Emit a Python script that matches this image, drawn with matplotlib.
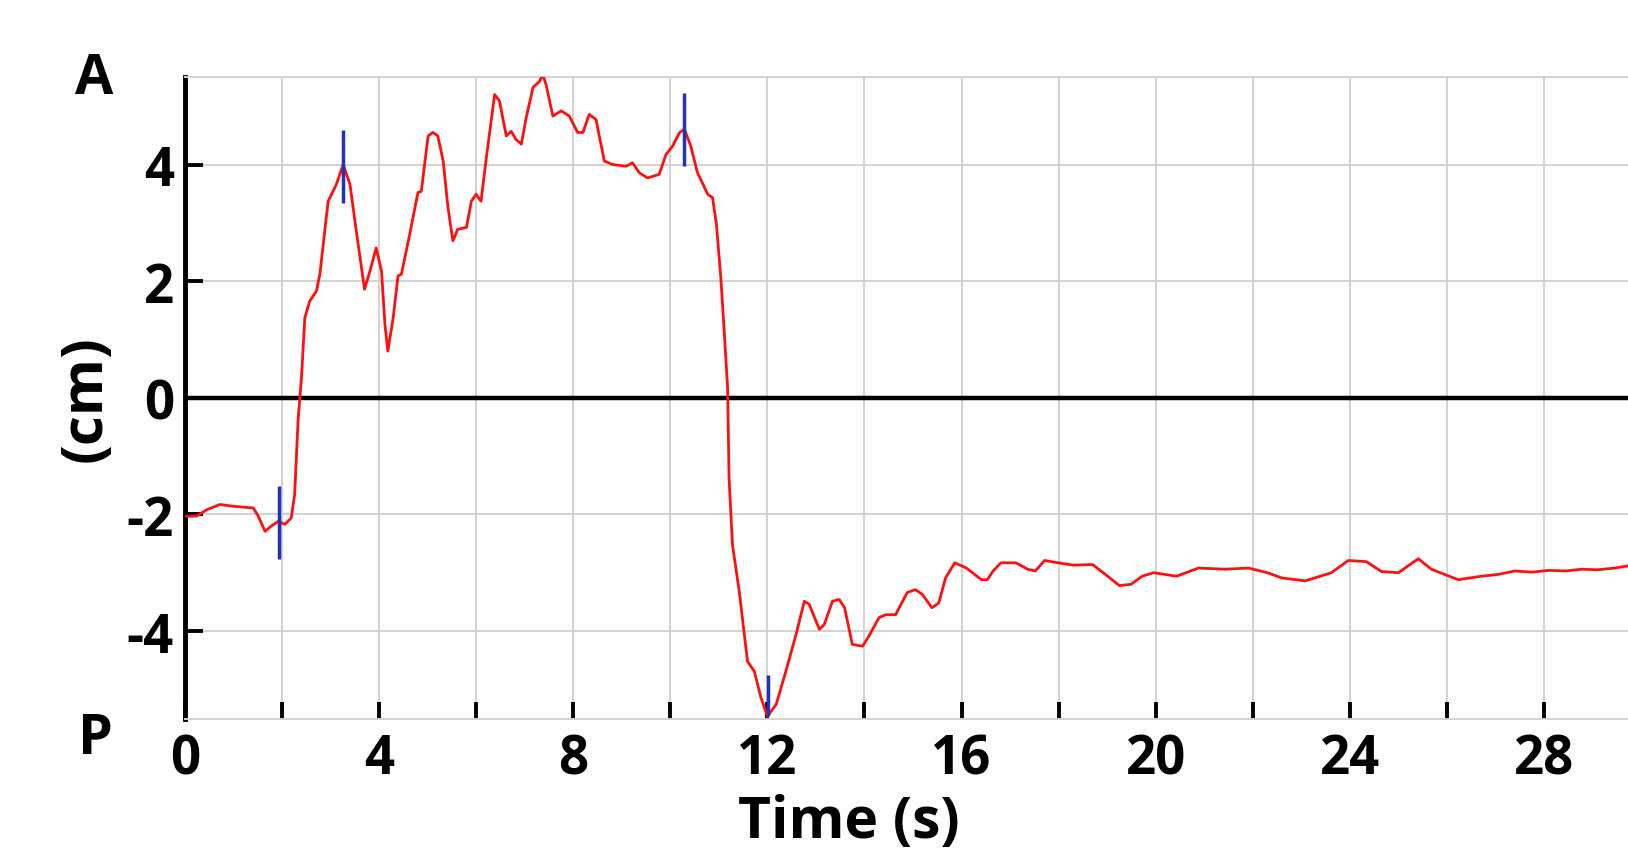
import matplotlib
matplotlib.use("Agg")
import matplotlib.pyplot as plt
import numpy as np

# trace: time (s) and displacement (cm)
time_s = [0.00, 0.24, 0.45, 0.72, 0.99, 1.41, 1.51, 1.65, 1.78, 1.92, 2.06, 2.19, 2.26, 2.33,
          2.40, 2.47, 2.57, 2.71, 2.78, 2.95, 3.12, 3.26, 3.40, 3.53, 3.70, 3.81, 3.94, 4.05,
          4.12, 4.18, 4.29, 4.39, 4.46, 4.63, 4.80, 4.87, 5.01, 5.11, 5.21, 5.32, 5.42, 5.52,
          5.62, 5.80, 5.90, 6.00, 6.10, 6.21, 6.38, 6.48, 6.62, 6.72, 6.82, 6.93, 7.03, 7.17,
          7.31, 7.37, 7.44, 7.58, 7.75, 7.92, 8.09, 8.20, 8.33, 8.47, 8.64, 8.81, 9.09, 9.22,
          9.36, 9.53, 9.77, 9.91, 10.05, 10.19, 10.29, 10.42, 10.56, 10.77, 10.87, 10.95, 11.04,
          11.11, 11.18, 11.21, 11.28, 11.42, 11.59, 11.73, 11.87, 12.00, 12.18, 12.38, 12.59,
          12.76, 12.86, 13.07, 13.17, 13.34, 13.48, 13.59, 13.75, 13.96, 14.09, 14.30, 14.44,
          14.64, 14.88, 15.05, 15.19, 15.39, 15.53, 15.67, 15.86, 16.10, 16.41, 16.53, 16.65,
          16.81, 17.12, 17.36, 17.52, 17.71, 17.99, 18.30, 18.70, 19.01, 19.25, 19.49, 19.72,
          19.96, 20.43, 20.88, 21.43, 21.91, 22.30, 22.60, 23.08, 23.62, 23.97, 24.34, 24.65,
          25.00, 25.41, 25.68, 26.23, 26.71, 27.05, 27.40, 27.75, 28.10, 28.45, 28.77, 29.10,
          29.46, 29.75]
disp_cm = [-2.03, -2.03, -1.92, -1.83, -1.86, -1.89, -2.03, -2.29, -2.20, -2.12, -2.17, -2.06,
           -1.66, -0.40, 0.34, 1.37, 1.66, 1.83, 2.12, 3.37, 3.66, 4.00, 3.66, 2.86, 1.86, 2.17,
           2.57, 2.17, 1.26, 0.80, 1.37, 2.09, 2.12, 2.80, 3.52, 3.54, 4.49, 4.55, 4.49, 4.06,
           3.26, 2.69, 2.89, 2.92, 3.37, 3.49, 3.37, 4.12, 5.20, 5.09, 4.49, 4.57, 4.43, 4.35,
           4.80, 5.32, 5.43, 5.55, 5.37, 4.83, 4.92, 4.83, 4.55, 4.55, 4.86, 4.77, 4.06, 4.00,
           3.97, 4.03, 3.86, 3.77, 3.83, 4.17, 4.32, 4.55, 4.60, 4.32, 3.86, 3.49, 3.43, 2.97,
           2.06, 1.14, 0.17, -1.37, -2.52, -3.32, -4.52, -4.69, -5.15, -5.46, -5.26, -4.69,
           -4.06, -3.49, -3.54, -3.97, -3.89, -3.49, -3.46, -3.60, -4.23, -4.26, -4.09, -3.77,
           -3.72, -3.72, -3.34, -3.29, -3.37, -3.60, -3.52, -3.09, -2.83, -2.92, -3.12, -3.12,
           -2.97, -2.83, -2.83, -2.94, -2.97, -2.79, -2.83, -2.87, -2.86, -3.06, -3.22, -3.20,
           -3.06, -3.00, -3.06, -2.92, -2.94, -2.92, -3.00, -3.09, -3.14, -3.00, -2.79, -2.81,
           -2.98, -3.00, -2.76, -2.94, -3.12, -3.06, -3.03, -2.97, -2.99, -2.96, -2.97, -2.94,
           -2.95, -2.92, -2.88]

# blue event markers: time, bottom, top
mark_t = [1.93, 3.26, 10.29, 12.02]
mark_lo = [-2.77, 3.34, 3.97, -5.46]
mark_hi = [-1.52, 4.60, 5.23, -4.75]

x_ticks = list(range(0, 30, 2))
x_labels = [str(t) if t % 4 == 0 else "" for t in x_ticks]
y_ticks = [-4, -2, 0, 2, 4]
y_labels = ["-4", "-2", "0", "2", "4"]

plt.rcParams['font.family'] = ['Open Sans', 'DejaVu Sans']

fig = plt.figure(figsize=(16.28, 8.53), dpi=100)
ax = fig.add_axes([0.1136, 0.1565, 0.8864, 0.752])

ax.plot(time_s, disp_cm, color='#ff1010', lw=2.0, zorder=4)
ax.vlines(mark_t, mark_lo, mark_hi, color='#1f33b8', lw=2.5, zorder=5)
ax.axhline(0, color='black', lw=3.2, zorder=3)

ax.set_xlim(0, 29.73)
ax.set_ylim(-5.5, 5.5)

ax.set_xticks(x_ticks)
ax.set_xticklabels(x_labels)
ax.set_yticks(y_ticks)
ax.set_yticklabels(y_labels)

ax.grid(True, color='#d2d2d2', lw=1.4, zorder=0)
ax.set_axisbelow(True)

ax.tick_params(axis='x', direction='in', length=12, width=2.8, color='black',
               labelsize=38, pad=10)
ax.tick_params(axis='y', direction='in', length=13, width=2.8, color='black',
               labelsize=38, pad=8)
for lab in ax.get_xticklabels() + ax.get_yticklabels():
    lab.set_fontweight('bold')

for s in ['top', 'bottom']:
    ax.spines[s].set_color('#d2d2d2')
    ax.spines[s].set_linewidth(1.4)
ax.spines['right'].set_visible(False)
ax.spines['left'].set_color('black')
ax.spines['left'].set_linewidth(3.5)

fig.text(849 / 1628, 0.5 / 853, "Time (s)", fontsize=41, fontweight='bold',
         ha='center', va='bottom')
ax.set_ylabel("(cm)", fontsize=42, fontweight='bold')
ax.yaxis.set_label_coords(-0.049, 0.5)

fig.text(94 / 1628, 1 - 80 / 853, "A", fontsize=40, fontweight='bold', ha='center', va='center')
fig.text(95 / 1628, 1 - 740 / 853, "P", fontsize=40, fontweight='bold', ha='center', va='center')

fig.savefig("out.png", dpi=100)
